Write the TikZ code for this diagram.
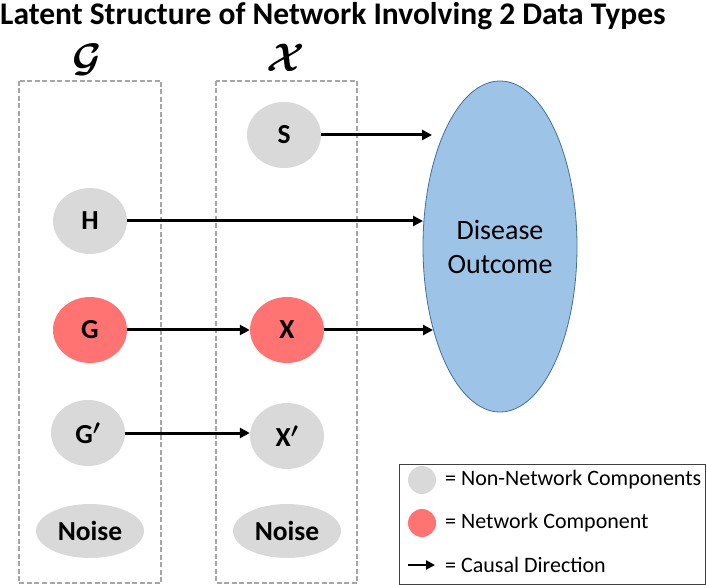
\documentclass[tikz,border=0pt]{standalone}
\usepackage{bm}
\usepackage{graphicx}
\usepackage{fontspec}
\setmainfont{Carlito}
\usetikzlibrary{shapes.geometric,arrows.meta}
\definecolor{nodegray}{HTML}{D9D9D9}
\definecolor{netred}{HTML}{FF7373}
\definecolor{dblue}{HTML}{9DC3E6}
\definecolor{dblueedge}{HTML}{41719C}
\definecolor{dashgray}{HTML}{A6A6A6}
\tikzset{
  comp/.style={ellipse, inner sep=0pt, minimum width=74pt, minimum height=66pt,
    font=\fontsize{27.5}{30}\selectfont\bfseries},
  nonnet/.style={comp, fill=nodegray},
  netw/.style={comp, fill=netred},
  noisenode/.style={comp, fill=nodegray, minimum width=108pt, minimum height=54pt},
  arr/.style={line width=3pt, -{Triangle[length=10pt,width=10pt]}},
  groupbox/.style={draw=dashgray, line width=1.6pt, dash pattern=on 5pt off 2.5pt},
  legtext/.style={anchor=west, inner sep=0pt, font=\fontsize{22}{26}\selectfont},
  legdot/.style={circle, inner sep=0pt, minimum size=28pt},
  grouplabel/.style={inner sep=0pt, font=\fontsize{24}{28}\selectfont},
}
\begin{document}
\begin{tikzpicture}[x=1pt,y=-1pt]
\useasboundingbox (0,0) rectangle (707,585);
% title
\node[anchor=base west, inner sep=0pt, font=\fontsize{31.5}{34}\selectfont\bfseries] (title) at (0,24.5) {Latent Structure of Network Involving 2 Data Types};
% group labels
\node[grouplabel] (labG) at (87,60) {\scalebox{1.6}{$\bm{\mathcal{G}}$}};
\node[grouplabel] (labX) at (286,58) {\scalebox{1.6}{$\bm{\mathcal{X}}$}};
% group boxes
\draw[groupbox] (19,81) rectangle (161,583);
\draw[groupbox] (216,81) rectangle (357,583);
% outcome
\node[ellipse, fill=dblue, draw=dblueedge, line width=0.8pt, minimum width=154pt, minimum height=331pt, inner sep=0pt, align=center, font=\fontsize{28}{34}\selectfont] (D) at (500,246.5) {Disease\\Outcome};
% components
\node[nonnet] (S) at (284,135) {S};
\node[nonnet] (H) at (90,221) {H};
\node[netw] (G) at (90,330) {G};
\node[netw] (X) at (287,330) {X};
\node[nonnet] (Gp) at (88,433) {G$\bm{'}$};
\node[nonnet] (Xp) at (287,436) {X$\bm{'}$};
\node[noisenode] (N1) at (90,531) {Noise};
\node[noisenode] (N2) at (287,531) {Noise};
% connectors
\coordinate (sEnd) at (432,135);
\coordinate (hEnd) at (423,221);
\coordinate (xEnd) at (433,330);
\draw[arr] (S) -- (sEnd);
\draw[arr] (H) -- (hEnd);
\draw[arr] (G) -- (X);
\draw[arr] (X) -- (xEnd);
\draw[arr] (Gp) -- (Gp -| Xp.west);
% legend
\node[draw=black!75, line width=1pt, minimum width=306pt, minimum height=120pt, inner sep=0pt] (legend) at (552,524) {};
\node[legdot, fill=nodegray] (l1) at (422,480) {};
\node[legdot, fill=netred] (l2) at (422,523) {};
\coordinate (la1) at (408,565);
\coordinate (la2) at (435,565);
\draw[arr, line width=2.5pt, -{Triangle[length=9pt,width=9pt]}] (la1) -- (la2);
\node[legtext] (t1) at (445,480) {= Non-Network Components};
\node[legtext] (t2) at (445,523) {= Network Component};
\node[legtext] (t3) at (445,565) {= Causal Direction};
\end{tikzpicture}
\end{document}
